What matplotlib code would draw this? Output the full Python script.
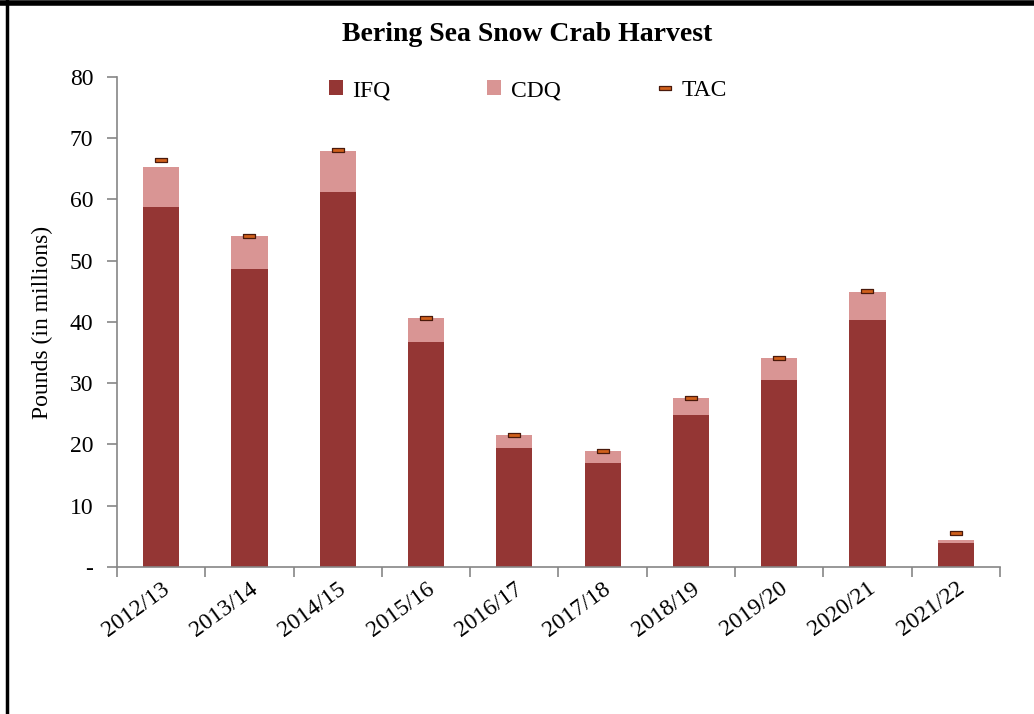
import matplotlib.pyplot as plt
from matplotlib.lines import Line2D
from matplotlib.patches import Patch
import numpy as np

seasons = ["2012/13", "2013/14", "2014/15", "2015/16", "2016/17",
           "2017/18", "2018/19", "2019/20", "2020/21", "2021/22"]
ifq = [58.8, 48.7, 61.2, 36.7, 19.4, 17.0, 24.8, 30.5, 40.3, 3.9]
cdq = [6.5, 5.3, 6.7, 4.0, 2.2, 1.9, 2.8, 3.6, 4.6, 0.5]
tac = [66.4, 54.0, 68.1, 40.7, 21.6, 18.9, 27.6, 34.1, 45.1, 5.6]

IFQ_COLOR = "#943634"
CDQ_COLOR = "#D99594"
TAC_FACE = "#D0601C"
TAC_EDGE = "#4A1A0C"
GRID = "#868686"

plt.rcParams["font.family"] = ["Liberation Serif", "DejaVu Serif"]

fig = plt.figure(figsize=(10.34, 7.14), dpi=100)
ax = fig.add_axes([0.1132, 0.2059, 0.8538, 0.6863])

x = np.arange(len(seasons))
w = 0.41
ax.bar(x, ifq, width=w, color=IFQ_COLOR, edgecolor="none")
ax.bar(x, cdq, width=w, bottom=ifq, color=CDQ_COLOR, edgecolor="none")

rect = [(-3, -1), (3, -1), (3, 1), (-3, 1), (-3, -1)]
ax.plot(x, tac, linestyle="none", marker=rect, markersize=9,
        markerfacecolor=TAC_FACE, markeredgecolor=TAC_EDGE, markeredgewidth=0.9)

ax.set_xlim(-0.5, len(seasons) - 0.5)
ax.set_ylim(0, 80)
ax.set_yticks(range(0, 81, 10))
ax.set_yticklabels(["-"] + [str(v) for v in range(10, 81, 10)])
ax.set_xticks(x)
ax.set_xticklabels(seasons, rotation=36, ha="right", rotation_mode="anchor")
ax.set_xticks(np.arange(-0.5, len(seasons), 1.0), minor=True)
ax.tick_params(axis="x", which="major", length=0, labelsize=17, pad=8)
ax.tick_params(axis="x", which="minor", length=7, color=GRID, width=1.2)
ax.tick_params(axis="y", length=7, color=GRID, width=1.2, labelsize=17, pad=10)

for s in ["top", "right"]:
    ax.spines[s].set_visible(False)
for s in ["left", "bottom"]:
    ax.spines[s].set_color(GRID)
    ax.spines[s].set_linewidth(1.2)

ax.set_ylabel("Pounds (in millions)", fontsize=17, labelpad=12)
fig.text(0.51, 0.951, "Bering Sea Snow Crab Harvest", ha="center", va="center",
         fontsize=20, fontweight="bold")

handles = [
    Patch(facecolor=IFQ_COLOR, edgecolor="none", label="IFQ"),
    Patch(facecolor=CDQ_COLOR, edgecolor="none", label="CDQ"),
    Line2D([], [], linestyle="none", marker=rect, markersize=9,
           markerfacecolor=TAC_FACE, markeredgecolor=TAC_EDGE,
           markeredgewidth=0.9, label="TAC"),
]
ax.legend(handles=handles, ncol=3, loc="center", bbox_to_anchor=(0.465, 0.972),
          frameon=False, fontsize=17, handlelength=0.6, handleheight=0.6,
          handletextpad=0.4, columnspacing=4.1)

# frame lines on top and left edges of the figure
fig.add_artist(Line2D([0, 1], [0.996, 0.996], color="black", lw=4,
                      transform=fig.transFigure))
fig.add_artist(Line2D([0.0065, 0.0065], [0, 1], color="black", lw=2.5,
                      transform=fig.transFigure))

fig.savefig("out.png", dpi=100)
